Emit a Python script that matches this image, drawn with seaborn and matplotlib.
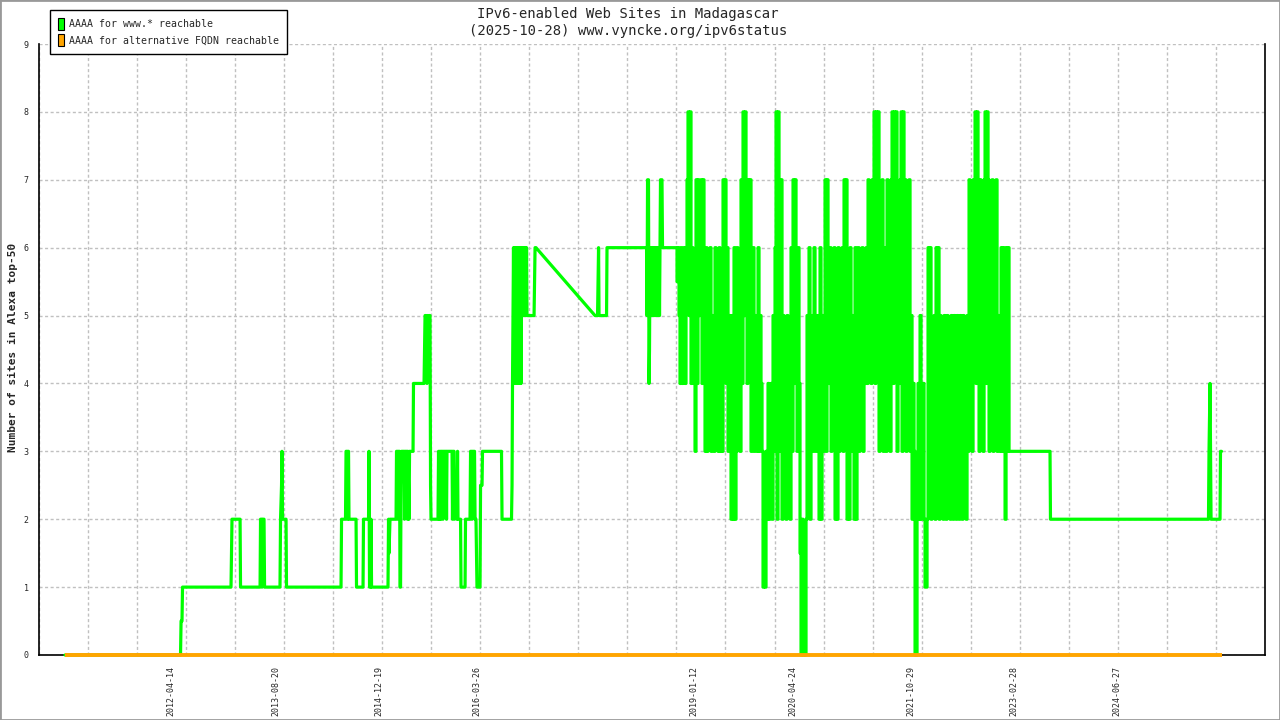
import numpy as np
import pandas as pd
import matplotlib
matplotlib.use("Agg")
import matplotlib.pyplot as plt
from matplotlib.patches import Patch, Rectangle
import seaborn as sns

# ---- data (x in decimal years) ----
title = "IPv6-enabled Web Sites in Madagascar\n(2025-10-28) www.vyncke.org/ipv6status"
ylabel = "Number of sites in Alexa top-50"
series_names = ["AAAA for www.* reachable", "AAAA for alternative FQDN reachable"]

label_dates = ["2012-04-14", "2013-08-20", "2014-12-19", "2016-03-26", "2019-01-12",
               "2020-04-24", "2021-10-29", "2023-02-28", "2024-06-27"]
label_years = [2012.285, 2013.633, 2014.966, 2016.232, 2019.030,
               2020.312, 2021.825, 2023.159, 2024.488]

x_start, x_end = 2010.579, 2026.395

# www.* reachable, early part: (year, sites)
www_early = [
    (2010.917, 0), (2012.407, 0), (2012.414, 0.5), (2012.426, 0.5), (2012.433, 1),
    (2013.058, 1), (2013.065, 1.5), (2013.071, 2), (2013.175, 2), (2013.181, 1),
    (2013.433, 1), (2013.439, 2), (2013.452, 2), (2013.458, 1), (2013.465, 2),
    (2013.484, 2), (2013.491, 1), (2013.690, 1), (2013.697, 2), (2013.710, 2.5),
    (2013.716, 3), (2013.723, 2), (2013.768, 2), (2013.774, 1), (2014.477, 1),
    (2014.484, 2), (2014.535, 2), (2014.542, 3), (2014.555, 3), (2014.561, 2),
    (2014.568, 3), (2014.574, 3), (2014.580, 2), (2014.671, 2), (2014.677, 1),
    (2014.761, 1), (2014.767, 2), (2014.832, 2), (2014.838, 3), (2014.845, 1),
    (2014.858, 1), (2014.864, 2), (2014.871, 1), (2015.083, 1), (2015.090, 2),
    (2015.096, 1.5), (2015.109, 2), (2015.135, 2), (2015.187, 2), (2015.193, 3),
    (2015.206, 3), (2015.212, 2), (2015.219, 3), (2015.232, 3), (2015.238, 1),
    (2015.245, 1), (2015.251, 2.5), (2015.258, 3), (2015.290, 3), (2015.296, 2),
    (2015.303, 3), (2015.329, 3), (2015.335, 2), (2015.341, 3), (2015.354, 2),
    (2015.361, 3), (2015.406, 3), (2015.412, 4), (2015.548, 4), (2015.554, 4.5),
    (2015.561, 5), (2015.574, 5), (2015.586, 4), (2015.593, 5), (2015.599, 5),
    (2015.606, 4.5), (2015.612, 5), (2015.625, 5), (2015.632, 2.5), (2015.638, 2),
    (2015.728, 2), (2015.735, 3), (2015.741, 2), (2015.748, 3), (2015.754, 2),
    (2015.761, 3), (2015.767, 2), (2015.773, 3), (2015.786, 3), (2015.793, 2),
    (2015.799, 3), (2015.832, 3), (2015.838, 2), (2015.844, 3), (2015.909, 3),
    (2015.915, 2), (2015.922, 3), (2015.935, 3), (2015.941, 2), (2015.948, 2.5),
    (2015.967, 2.5), (2015.973, 2), (2015.980, 3), (2015.986, 2), (2016.019, 2),
    (2016.025, 1), (2016.077, 1), (2016.083, 2), (2016.141, 2), (2016.148, 3),
    (2016.160, 3), (2016.167, 2), (2016.173, 3), (2016.199, 3), (2016.206, 2),
    (2016.218, 2), (2016.225, 1.5), (2016.231, 1), (2016.270, 1), (2016.277, 2.5),
    (2016.296, 2.5), (2016.302, 3), (2016.547, 3), (2016.554, 2), (2016.676, 2),
    (2016.683, 2.5), (2016.689, 4), (2016.696, 5), (2016.702, 6), (2016.709, 4),
    (2016.715, 6), (2016.722, 5), (2016.728, 6), (2016.734, 4), (2016.741, 6),
    (2016.747, 4), (2016.754, 6), (2016.760, 5), (2016.767, 6), (2016.773, 4),
    (2016.780, 6), (2016.786, 4), (2016.793, 6), (2016.799, 4), (2016.805, 6),
    (2016.812, 5), (2016.818, 6), (2016.825, 5), (2016.831, 6), (2016.838, 5),
    (2016.844, 6), (2016.851, 5), (2016.857, 6), (2016.863, 5), (2016.870, 6),
    (2016.876, 5), (2016.967, 5), (2016.973, 5.5), (2016.980, 6), (2016.992, 6),
    (2017.753, 5), (2017.786, 5), (2017.792, 5.5), (2017.799, 6), (2017.805, 5),
    (2017.902, 5), (2017.908, 6), (2018.418, 6), (2018.424, 5), (2018.431, 7),
    (2018.443, 7), (2018.450, 4), (2018.456, 4.5), (2018.463, 6), (2018.469, 5),
    (2018.476, 6), (2018.482, 5), (2018.489, 6), (2018.495, 5), (2018.501, 6),
    (2018.508, 5), (2018.514, 6), (2018.521, 5), (2018.527, 6), (2018.534, 5),
    (2018.540, 6), (2018.546, 5), (2018.553, 6), (2018.559, 5), (2018.566, 6),
    (2018.572, 5), (2018.579, 6), (2018.585, 5), (2018.592, 6), (2018.598, 7),
    (2018.617, 7), (2018.624, 6),
]

# www.* reachable, busy period 2018-10 .. 2023-02, sampled every ~4.7 days
dense_start = 2018.798
dense_step = 0.0129
www_dense = [
    6, 5.5, 6, 5, 4, 6, 4, 5, 6, 4,
    6, 7, 8, 5, 8, 4, 6, 5, 4, 3,
    7, 4, 7, 5, 6, 7, 4, 7, 5, 3,
    6, 3, 5, 4, 6, 3, 5, 4, 3, 6,
    4, 5, 3, 6, 3, 4, 3, 7, 6, 7,
    4, 6, 3, 5, 4, 2, 5, 2, 6, 2,
    3, 6, 4, 5, 3, 7, 4, 8, 5, 8,
    7, 4, 7, 6, 7, 3, 5, 6, 3, 5,
    4, 3, 6, 3, 5, 4, 3, 1, 2.5, 1,
    3, 2, 4, 2, 3, 4, 2, 5, 3, 6,
    8, 2, 8, 7, 3, 7, 2, 5, 3, 4,
    2, 5, 3, 4, 2, 6, 3, 7, 4, 7,
    5, 3, 6, 4, 1.5, 0, 2, 0, 1, 0,
    2, 5, 3, 6, 2, 4, 5, 3, 6, 4,
    3, 5, 4, 2, 6, 2, 5, 3, 4, 7,
    3, 7, 5, 4, 6, 3, 5, 4, 6, 2,
    5, 2, 6, 3, 5, 4, 6, 3, 7, 4,
    7, 2, 5, 2, 6, 3, 5, 4, 2, 6,
    2, 4, 6, 3, 5, 4, 6, 3, 5, 4,
    6, 4, 7, 5, 6, 4, 7, 5, 8, 4,
    8, 5, 8, 3, 6, 4, 7, 3, 6, 5,
    3, 7, 4, 6, 3, 7, 8, 4, 8, 5,
    8, 3, 6, 4, 7, 8, 3, 8, 4, 7,
    3, 6, 4, 7, 3, 5, 2, 4, 3, 0,
    0, 2, 4, 2, 5, 2, 3, 4, 2, 1,
    1, 2, 6, 3, 6, 2, 4, 3, 5, 2,
    6, 3, 6, 2, 5, 3, 4, 2, 5, 3,
    2, 5, 3, 4, 2, 5, 3, 2, 5, 4,
    2, 5, 3, 2, 5, 4, 2, 5, 3, 4,
    2, 5, 3, 7, 4, 6, 3, 7, 5, 8,
    4, 8, 7, 3, 7, 5, 6, 3, 7, 8,
    4, 8, 7, 3, 6, 4, 7, 3, 6, 4,
    7, 3, 5, 4, 3, 6, 3, 6, 4, 2,
    6, 3, 6, 3,
]

# www.* reachable, late part
www_late = [
    (2023.106, 3), (2023.622, 3), (2023.628, 2), (2025.666, 2), (2025.673, 3),
    (2025.686, 4), (2025.699, 2), (2025.815, 2), (2025.821, 3), (2025.834, 3),
]

# alternative FQDN reachable: zero all along
alt_years = [2010.917, 2025.834]
alt_vals = [0, 0]

# ---- build frames ----
# dense samples are held until the next one (step shape)
dense_years = dense_start + dense_step * np.arange(len(www_dense))
step_x = np.repeat(dense_years, 2)[1:]
step_y = np.repeat(np.array(www_dense, dtype=float), 2)[:-1]

www = pd.DataFrame(
    list(www_early) + list(zip(step_x, step_y)) + list(www_late),
    columns=["year", "sites"],
)
alt = pd.DataFrame({"year": alt_years, "sites": alt_vals})

green = "#00ff00"
orange = "#ffa500"

sns.set_style("white")
plt.rcParams["font.family"] = ["DejaVu Sans Mono", "DejaVu Sans"]

fig = plt.figure(figsize=(12.8, 7.2), dpi=100)
ax = fig.add_axes([38.8 / 1280, 65 / 720, (1265 - 38.8) / 1280, 611 / 720])

sns.lineplot(data=www, x="year", y="sites", ax=ax, color=green, lw=2.3,
             sort=False, estimator=None, zorder=3, clip_on=False)
sns.lineplot(data=alt, x="year", y="sites", ax=ax, color=orange, lw=2.8,
             sort=False, estimator=None, zorder=4, clip_on=False,
             solid_capstyle="butt")

ax.set_xlim(x_start, x_end)
ax.set_ylim(0, 9)

# grid ticks (unlabelled) and date labels on minor ticks
ax.set_xticks(np.linspace(x_start, x_end, 26))
ax.set_xticklabels([])
ax.set_xticks(label_years, minor=True)
ax.set_xticklabels(label_dates, minor=True, rotation=90, fontsize=6)
ax.tick_params(axis="x", which="minor", length=0, pad=8)
ax.tick_params(axis="x", which="major", direction="inout", length=6.5, width=1)
ax.set_yticks(range(10))
ax.tick_params(axis="y", direction="inout", length=6.5, width=1, labelsize=6, pad=4)

ax.grid(True, which="major", color="#c0c0c0", lw=1, ls=(0, (2.2, 1.8)))
for s in ["left", "bottom", "right"]:
    ax.spines[s].set_visible(True)
    ax.spines[s].set_color("black")
    ax.spines[s].set_linewidth(1.2)
ax.spines["top"].set_visible(False)

ax.set_xlabel("")
ax.set_ylabel(ylabel, fontsize=8, fontweight="bold")
ax.yaxis.set_label_coords(-0.017, 0.504)

fig.text(628 / 1280, 1 - 7 / 720, title, ha="center", va="top", fontsize=10,
         linespacing=1.3)

handles = [Patch(facecolor=green, edgecolor="black", lw=0.8),
           Patch(facecolor=orange, edgecolor="black", lw=0.8)]
leg = fig.legend(handles, series_names, loc="upper left",
                 bbox_to_anchor=(50 / 1280, 1 - 10 / 720), fontsize=7.1,
                 frameon=True, fancybox=False, framealpha=1, edgecolor="black",
                 borderpad=0.8, handlelength=0.6, handleheight=1.5,
                 handletextpad=0.5, labelspacing=0.45, borderaxespad=0)
leg.get_frame().set_linewidth(1)

fig.patches.append(Rectangle((0, 0), 1, 1, transform=fig.transFigure, fill=False,
                             edgecolor="#999999", lw=2))

fig.savefig("out.png", dpi=100)
